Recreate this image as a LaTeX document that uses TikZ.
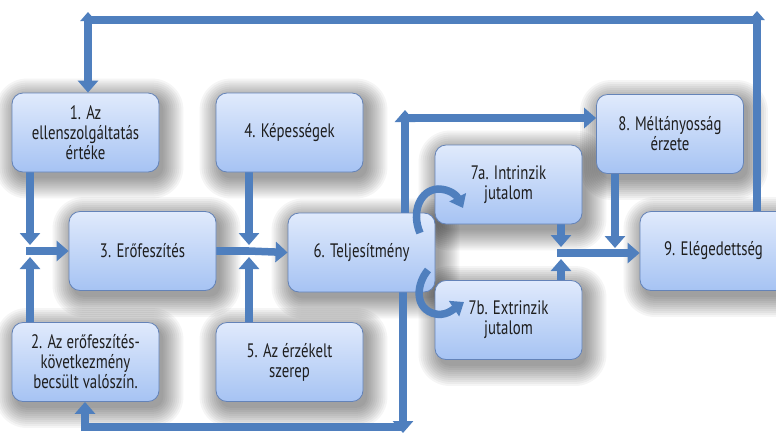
\documentclass[tikz,border=0pt]{standalone}
\usepackage{fontspec}
\setmainfont{PT Sans}[FakeStretch=0.76]
\usetikzlibrary{arrows.meta}

\definecolor{flowblue}{HTML}{4F7FBE}
\definecolor{boxtop}{HTML}{E0EAFC}
\definecolor{boxbot}{HTML}{A6C3F3}
\definecolor{boxline}{HTML}{6483B8}
\definecolor{inktext}{HTML}{1E1E1E}

\pgfdeclarelayer{shade}
\pgfdeclarelayer{wires}
\pgfsetlayers{shade,wires,main}

\tikzset{
  box/.style={draw=boxline, line width=0.8pt, rounded corners=11pt,
    top color=boxtop, bottom color=boxbot,
    minimum width=147pt, minimum height=79pt, inner sep=0pt, align=center,
    font=\fontsize{19.5}{20}\selectfont, text=inktext},
  headtip/.tip={Triangle[width=20pt,length=12pt]},
  smalltip/.tip={Triangle[width=15pt,length=9pt]},
  flowline/.style={draw=flowblue, line width=7.5pt},
  flow/.style={flowline, -headtip},
  flowboth/.style={flowline, smalltip-headtip},
  curvy/.style={draw=flowblue, line width=7.5pt, -{Triangle[width=18pt,length=12pt]}},
}

% soft drop shadow behind a named box
\newcommand{\softshadow}[1]{%
  \begin{pgfonlayer}{shade}
    \foreach \s in {0,2,...,20}{
      \fill[black, opacity=0.04, rounded corners=11pt+\s pt]
        ([shift={(4-\s,6-\s)}]#1.north west) rectangle ([shift={(4+\s,6+\s)}]#1.south east);
    }
  \end{pgfonlayer}}

\begin{document}
\begin{tikzpicture}[x=1pt, y=-1pt]
  \useasboundingbox (0,0) rectangle (776,432);
  \clip (0,0) rectangle (776,432);
  \begin{pgfonlayer}{shade}
    \fill[white] (0,0) rectangle (776,432);
  \end{pgfonlayer}

  % boxes
  \node[box] (n1)  at (85.5,132.5) {1. Az\\ellenszolgáltatás\\értéke};
  \node[box] (n4)  at (289.5,132.5) {4. Képességek};
  \node[box] (n3)  at (142.5,251) {3. Erőfeszítés};
  \node[box] (n6)  at (361.5,252.5) {6. Teljesítmény};
  \node[box] (n2)  at (85.5,362) {2. Az erőfeszítés-\\következmény\\becsült valószín.};
  \node[box] (n5)  at (289.5,362) {5. Az érzékelt\\szerep};
  \node[box] (n7a) at (508.5,184.5) {7a. Intrinzik\\jutalom};
  \node[box] (n7b) at (508.5,320) {7b. Extrinzik\\jutalom};
  \node[box] (n8)  at (670,134) {8. Méltányosság\\érzete};
  \node[box] (n9)  at (713.5,251) {9. Elégedettség};

  \foreach \n in {n1,n2,n3,n4,n5,n6,n7a,n7b,n8,n9}{\softshadow{\n}}

  % junction points and bends (shifts are in page units: positive yshift is upwards)
  \coordinate (jL) at (30,251);
  \coordinate (jM) at (249,251);
  \coordinate (jR) at (561,253);
  \coordinate (j8) at (615,248);
  \coordinate (tr) at (757,20);
  \coordinate (tl) at (88,20);
  \coordinate (u6) at (405,118);
  \coordinate (d6) at (403,427);
  \coordinate (b2) at (85,427);

  \begin{pgfonlayer}{wires}
    % 1 and 2 into 3
    \draw[flow] (n1.south -| jL) -- ([yshift=6]jL);
    \draw[flow] (n2.north -| jL) -- ([yshift=-6]jL);
    \draw[flow] ([xshift=-4]jL) -- (n3.west);
    % 3, 4 and 5 into 6
    \draw[flowline] (n3.east) -- (jM);
    \draw[flow] (jM) -- (n6.west);
    \draw[flow] (n4.south -| jM) -- ([yshift=6]jM);
    \draw[flow] (n5.north -| jM) -- ([yshift=-6]jM);
    % 7a, 7b and 8 into 9
    \draw[flow] (n7a.south -| jR) -- ([yshift=6]jR);
    \draw[flow] (n7b.north -| jR) -- ([yshift=-6]jR);
    \draw[flow] ([xshift=-4]jR) -- (n9.west |- jR);
    \draw[flow] (n8.south -| j8) -- (j8);
    % 6 to 8 over the top
    \draw[flow] (n6.north -| u6) -- ([yshift=8]u6);
    \draw[flow] ([xshift=-4]u6) -- (n8.west |- u6);
    % 6 back to 2 along the bottom
    \draw[flow] (n6.south -| d6) -- ([yshift=-6]d6);
    \draw[flowline] (d6) -- (b2);
    \draw[flow] ([yshift=-4]b2) -- (n2.south -| b2);
    % 9 back to 1 along the top
    \draw[flowline, -smalltip] (n9.north -| tr) -- ([yshift=9]tr);
    \draw[flowline] (tr) -- (tl);
    \draw[flowboth] ([yshift=8]tl) -- (n1.north -| tl);
  \end{pgfonlayer}

  % 6 splits into intrinsic and extrinsic rewards
  \draw[curvy] (420,233) .. controls (411,212) and (420,190) .. (438,189)
    .. controls (450,189) and (457,196) .. (463,208);
  \draw[curvy] (428,270) .. controls (417,283) and (414,306) .. (432,313)
    .. controls (445,318) and (455,308) .. (464,302);
\end{tikzpicture}
\end{document}
